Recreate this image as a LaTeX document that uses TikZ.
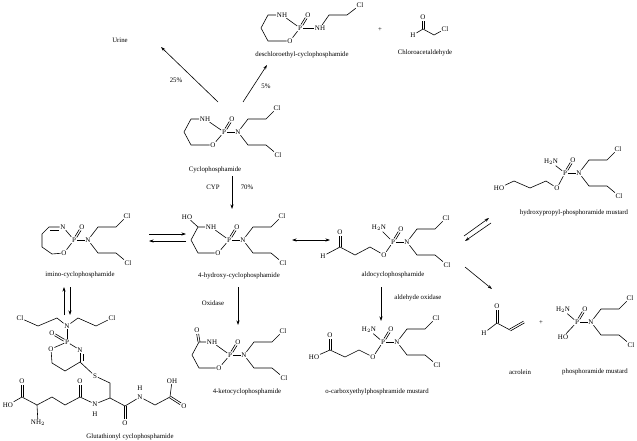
\documentclass[tikz,border=0pt]{standalone}
\usepackage{fontspec}
\setmainfont{Liberation Serif}
\usetikzlibrary{arrows.meta,calc}
\newcommand\dbond[3]{\draw[#1] ($(#2)!1pt!90:(#3)$) -- ($(#3)!1pt!-90:(#2)$); \draw[#1] ($(#2)!1pt!-90:(#3)$) -- ($(#3)!1pt!90:(#2)$);}
\begin{document}
\begin{tikzpicture}[x=1pt,y=-1pt]
\tikzset{
 every path/.style={line width=0.6pt},
 atom/.style={inner sep=0.6pt, font=\fontsize{7}{8}\selectfont},
 lbl/.style={inner sep=0pt, font=\fontsize{6.8}{8}\selectfont},
 bb/.style={shorten <=3.5pt, shorten >=3.5pt},
 bo/.style={shorten >=4pt},
 arr/.style={-{Stealth[length=4.5pt,width=3pt]}, line width=0.6pt},
 phos/.pic={
  \node[atom] (-P) at (0,0) {P};
  \node[atom] (-Od) at (8,-13) {O};
  \node[atom] (-N) at (14,0) {N};
  \node[atom] (-Cla) at (53,-24) {Cl};
  \node[atom] (-Clb) at (54,23) {Cl};
  \dbond{bb}{-P}{-Od}
  \draw (-P) -- (-N);
  \draw (-N) -- (24,-13) -- (42,-13) -- (-Cla);
  \draw (-N) -- (24,13) -- (42,13) -- (-Clb);
 }
}
\useasboundingbox (0,0) rectangle (637,441);
% Cyclophosphamide
\pic (cp) at (224,132) {phos};
\node[atom] (cpNH) at (205,119) {NH};
\node[atom] (cpO) at (213,145) {O};
\draw (cpNH) -- (cp-P); \draw (cpO) -- (cp-P);
\draw (cpNH) -- (191,119) -- (184,132) -- (191,145) -- (cpO);
\node[lbl] (cpL) at (215,170) {Cyclophosphamide};
% Deschloroethyl
\node[atom] (dP) at (300,28) {P};
\node[atom] (dOd) at (308,15) {O};
\node[atom] (dNH) at (320,28) {NH};
\node[atom] (dCl) at (360,5) {Cl};
\node[atom] (dRN) at (282,15) {NH};
\node[atom] (dRO) at (290,41) {O};
\dbond{bb}{dP}{dOd}
\draw (dP) -- (dNH); \draw (dP) -- (dRN); \draw (dP) -- (dRO);
\draw (dNH) -- (329,15) -- (347,15) -- (dCl);
\draw (dRN) -- (268,15) -- (261,28) -- (268,41) -- (dRO);
\node[lbl] (dL) at (302,55) {deschloroethyl-cyclophosphamide};
\node[lbl] (plus1) at (380,30) {+};
% Chloroacetaldehyde
\node[atom] (caO) at (423,17) {O};
\node[atom] (caH) at (413,35) {H};
\node[atom] (caCl) at (445,29) {Cl};
\coordinate (caC) at (423,29);
\dbond{bo}{caC}{caO}
\draw (caH) -- (caC) -- (434,35) -- (caCl);
\node[lbl] (caL) at (425,53) {Chloroacetaldehyde};
% Urine
\node[lbl] (urine) at (120,40) {Urine};
\coordinate (u1) at (218,102); \coordinate (u2) at (161,47);
\draw[arr] (u1) -- (u2);
\node[lbl] (p25) at (176,80) {25\%};
\coordinate (f1) at (243,102); \coordinate (f2) at (267,65);
\draw[arr] (f1) -- (f2);
\node[lbl] (p5) at (266,86) {5\%};
% CYP
\draw[arr] (232,176) -- (232,209);
\node[lbl] (cyp) at (213,187) {CYP};
\node[lbl] (p70) at (247,187) {70\%};
% 4-hydroxy
\pic (hy) at (229,240) {phos};
\node[atom] (hyNH) at (211,227) {NH};
\node[atom] (hyO) at (218,253) {O};
\node[atom] (hyHO) at (187,217) {HO};
\draw (hyNH) -- (hy-P); \draw (hyO) -- (hy-P);
\draw (hyNH) -- (198,227) -- (191,240) -- (198,253) -- (hyO);
\draw (hyHO) -- (198,227);
\node[lbl] (hyL) at (239,276) {4-hydroxy-cyclophosphamide};
% imino
\pic (im) at (74,240) {phos};
\node[atom] (imN) at (63,227) {N};
\node[atom] (imO) at (64,253) {O};
\draw (imN) -- (im-P); \draw (imO) -- (im-P);
\draw (imN) -- (49,227) -- (42,234) -- (42,247) -- (52,254) -- (imO);
\draw (50,230) -- (59,230);
\node[lbl] (imL) at (80,275) {imino-cyclophosphamide};
\draw[arr] (149,234) -- (186,234);
\draw[arr] (186,241) -- (149,241);
\draw[arr] (64,315) -- (64,287);
\draw[arr] (70,287) -- (70,315);
% glutathionyl
\node[atom] (gN) at (67,326) {N};
\node[atom] (gCl1) at (20,318) {Cl};
\node[atom] (gCl2) at (112,318) {Cl};
\node[atom] (gP) at (67,342) {P};
\node[atom] (gOd) at (52,333) {O};
\node[atom] (gO) at (51,349) {O};
\node[atom] (gNr) at (80,350) {N};
\node[atom] (gS) at (95,376) {S};
\draw (gN) -- (57,318) -- (38,326) -- (gCl1);
\draw (gN) -- (78,318) -- (96,326) -- (gCl2);
\draw (gN) -- (gP); \dbond{bb}{gP}{gOd}
\draw (gP) -- (gO); \draw (gP) -- (gNr);
\draw (gNr) -- (80,362); \draw (83,354) -- (83,361);
\draw (gO) -- (52,363) -- (65,371) -- (80,362) -- (gS);
\draw (gS) -- (110,383) -- (110,398);
\node[atom] (gO2) at (125,423) {O};
\node[atom] (gN3) at (140,397) {N};
\node[atom] (gH3) at (140,388) {H};
\node[atom] (gOH) at (172,381) {OH};
\node[atom] (gO3) at (184,406) {O};
\draw (110,398) -- (125,406) -- (gN3);
\dbond{bo}{125,406}{gO2}
\draw (gN3) -- (155,405) -- (170,397) -- (gOH);
\dbond{bo}{170,397}{gO3}
\node[atom] (gN4) at (95,404) {N};
\node[atom] (gH4) at (95,414) {H};
\node[atom] (gO4) at (80,381) {O};
\node[atom] (gO5) at (22,381) {O};
\node[atom] (gHO) at (8,405) {HO};
\node[atom] (gNH2) at (38,423) {NH$_2$};
\draw (110,398) -- (gN4) -- (80,397) -- (65,405) -- (52,397) -- (37,405) -- (22,397) -- (gHO);
\dbond{bo}{80,397}{gO4}
\dbond{bo}{22,397}{gO5}
\draw (37,405) -- (gNH2);
\node[lbl] (gL) at (130,437) {Glutathionyl cyclophosphamide};
% oxidase
\draw[arr] (238,287) -- (238,325);
\node[lbl] (oxl) at (213,303) {Oxidase};
% 4-keto
\pic (ke) at (230,355) {phos};
\node[atom] (keNH) at (212,342) {NH};
\node[atom] (keO) at (219,368) {O};
\node[atom] (keOk) at (197,330) {O};
\draw (keNH) -- (ke-P); \draw (keO) -- (ke-P);
\draw (keNH) -- (199,342) -- (192,355) -- (199,368) -- (keO);
\dbond{bo}{199,342}{keOk}
\node[lbl] (keL) at (247,392) {4-ketocyclophosphamide};
% aldo
\draw[arr, {Stealth[length=4.5pt,width=3pt]}-{Stealth[length=4.5pt,width=3pt]}] (292,240) -- (330,240);
\pic (al) at (393,242) {phos};
\node[atom] (alNH2) at (379,228) {H$_2$N};
\node[atom] (alOe) at (384,255) {O};
\node[atom] (alO) at (340,232) {O};
\node[atom] (alH) at (323,256) {H};
\draw (alNH2) -- (al-P); \draw (alOe) -- (al-P);
\draw (alOe) -- (370,247) -- (355,255) -- (340,247) -- (alH);
\dbond{bo}{340,247}{alO}
\node[lbl] (alL) at (393,275) {aldocyclophosphamide};
% aldehyde oxidase
\draw[arr] (381,287) -- (381,321);
\node[lbl] (aox) at (418,298) {aldehyde oxidase};
% carboxy
\pic (cx) at (383,342) {phos};
\node[atom] (cxNH2) at (369,330) {H$_2$N};
\node[atom] (cxOe) at (373,357) {O};
\node[atom] (cxO) at (330,335) {O};
\node[atom] (cxHO) at (314,357) {HO};
\draw (cxNH2) -- (cx-P); \draw (cxOe) -- (cx-P);
\draw (cxOe) -- (359,350) -- (345,357) -- (330,350) -- (cxHO);
\dbond{bo}{330,350}{cxO}
\node[lbl] (cxL) at (377,392) {o-carboxyethylphosphramide mustard};
% hydroxypropyl
\pic (hp) at (565,173) {phos};
\node[atom] (hpNH2) at (551,162) {H$_2$N};
\node[atom] (hpOe) at (557,188) {O};
\node[atom] (hpHO) at (499,188) {HO};
\draw (hpNH2) -- (hp-P); \draw (hpOe) -- (hp-P);
\draw (hpOe) -- (546,181) -- (530,188) -- (514,181) -- (hpHO);
\node[lbl] (hpL) at (574,213) {hydroxypropyl-phosphoramide mustard};
\draw[arr] (464,236) -- (489,218);
\draw[arr] (491,223) -- (465,241);
% acrolein
\draw[arr] (465,267) -- (492,289);
\node[atom] (acO) at (497,306) {O};
\node[atom] (acH) at (484,333) {H};
\dbond{bo}{497,323}{acO}
\draw (acH) -- (497,323) -- (510,330);
\dbond{}{510,330}{524,322}
\node[lbl] (acL) at (520,372) {acrolein};
\node[lbl] (plus2) at (541,323) {+};
% phosphoramide mustard
\pic (pm) at (577,322) {phos};
\node[atom] (pmNH2) at (563,310) {H$_2$N};
\node[atom] (pmHO) at (563,337) {HO};
\draw (pmNH2) -- (pm-P); \draw (pmHO) -- (pm-P);
\node[lbl] (pmL) at (595,372) {phosphoramide mustard};
\end{tikzpicture}
\end{document}
